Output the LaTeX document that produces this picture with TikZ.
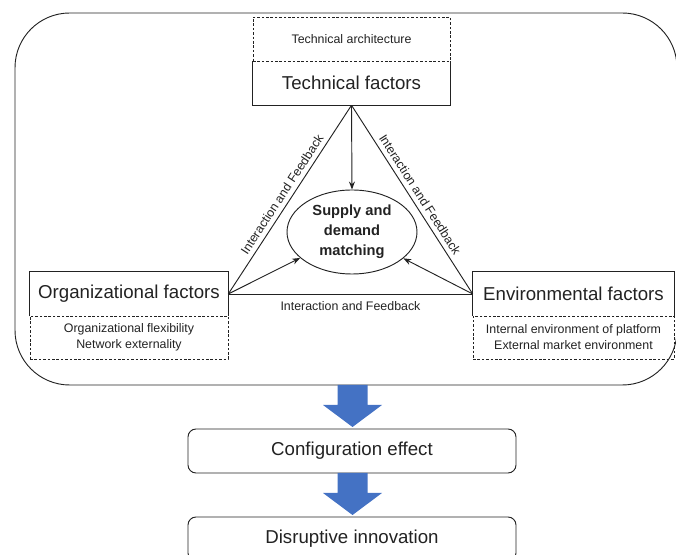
\documentclass[tikz,border=0pt]{standalone}
\usepackage{fontspec}
\setmainfont{Liberation Sans}
\usetikzlibrary{arrows.meta,shapes.geometric}
\definecolor{arrowblue}{HTML}{4472C4}
\definecolor{ink}{HTML}{222222}
\begin{document}
\begin{tikzpicture}[x=0.75pt,y=-0.75pt,
  lw/.style={line width=0.7pt, draw=ink},
  factor/.style={minimum height=33pt, inner sep=0pt, text=ink, font=\fontsize{14}{16}\selectfont},
  sub/.style={draw=ink, line width=0.7pt, dash pattern=on 2pt off 1.3pt, inner sep=0pt, text=ink, font=\fontsize{9.3}{12}\selectfont, align=center},
  lab/.style={text=ink, font=\fontsize{9.3}{11}\selectfont},
  arr/.style={lw, -{Stealth[length=6pt,width=4.5pt]}},
  outcome/.style={draw=ink, line width=0.7pt, rounded corners=6pt, minimum width=246pt, minimum height=33pt, text=ink, font=\fontsize{14}{16}\selectfont},
  blockarrow/.style={fill=arrowblue}
]
\useasboundingbox (0,0) rectangle (676,555);
% outer frame
\draw[lw, rounded corners=41pt] (15,13) rectangle (677,385);

% technical
\node[factor, minimum width=147.75pt] (tf) at (351.5,83) {Technical factors};
\draw[lw] (tf.north west) -- (tf.south west) -- (tf.south east) -- (tf.north east);
\node[sub, minimum width=147.75pt, minimum height=33pt] (ta) at (351.5,39) {Technical architecture};

% organizational
\node[factor, minimum width=148.5pt] (of) at (129,294) {Organizational factors};
\draw[lw] (of.south west) -- (of.north west) -- (of.north east) -- (of.south east);
\node[sub, minimum width=148.5pt, minimum height=32.25pt] (os) at (129,337.5) {Organizational flexibility\\Network externality};

% environmental
\node[factor, minimum width=150.75pt] (ef) at (573.5,294) {Environmental factors};
\draw[lw] (ef.south west) -- (ef.north west) -- (ef.north east) -- (ef.south east);
\node[sub, minimum width=150.75pt, minimum height=32.25pt] (es) at (573.5,337.5) {Internal environment of platform\\External market environment};

% centre ellipse
\node[ellipse, draw=ink, line width=0.7pt, minimum width=97.5pt, minimum height=63pt, inner sep=0pt, align=center, text=ink,
  font=\fontsize{11}{15}\selectfont\bfseries] (sd) at (352,232) {Supply and\\demand\\matching};

% triangle
\draw[lw] (of.east) -- node[lab, sloped, above=0pt] {Interaction and Feedback} (tf.south);
\draw[lw] (tf.south) -- node[lab, sloped, above=0pt] {Interaction and Feedback} (ef.west);
\draw[lw] (of.east) -- node[lab, below=2pt] {Interaction and Feedback} (ef.west);

% arrows to centre
\draw[arr] (tf.south) -- (sd.north);
\draw[arr] (of.east) -- (sd);
\draw[arr] (ef.west) -- (sd);

% outcomes
\node[outcome] (ce) at (352,451) {Configuration effect};
\node[outcome] (di) at (352,539) {Disruptive innovation};

% block arrows
\coordinate (b1) at (352.5,385);
\coordinate (b2) at (352.5,473);
\fill[blockarrow, shift={(b1)}] (-15,0) -- (15,0) -- (15,20) -- (29.5,20) -- (0,42) -- (-29.5,20) -- (-15,20) -- cycle;
\fill[blockarrow, shift={(b2)}] (-15,0) -- (15,0) -- (15,20) -- (29.5,20) -- (0,42) -- (-29.5,20) -- (-15,20) -- cycle;
\end{tikzpicture}
\end{document}
